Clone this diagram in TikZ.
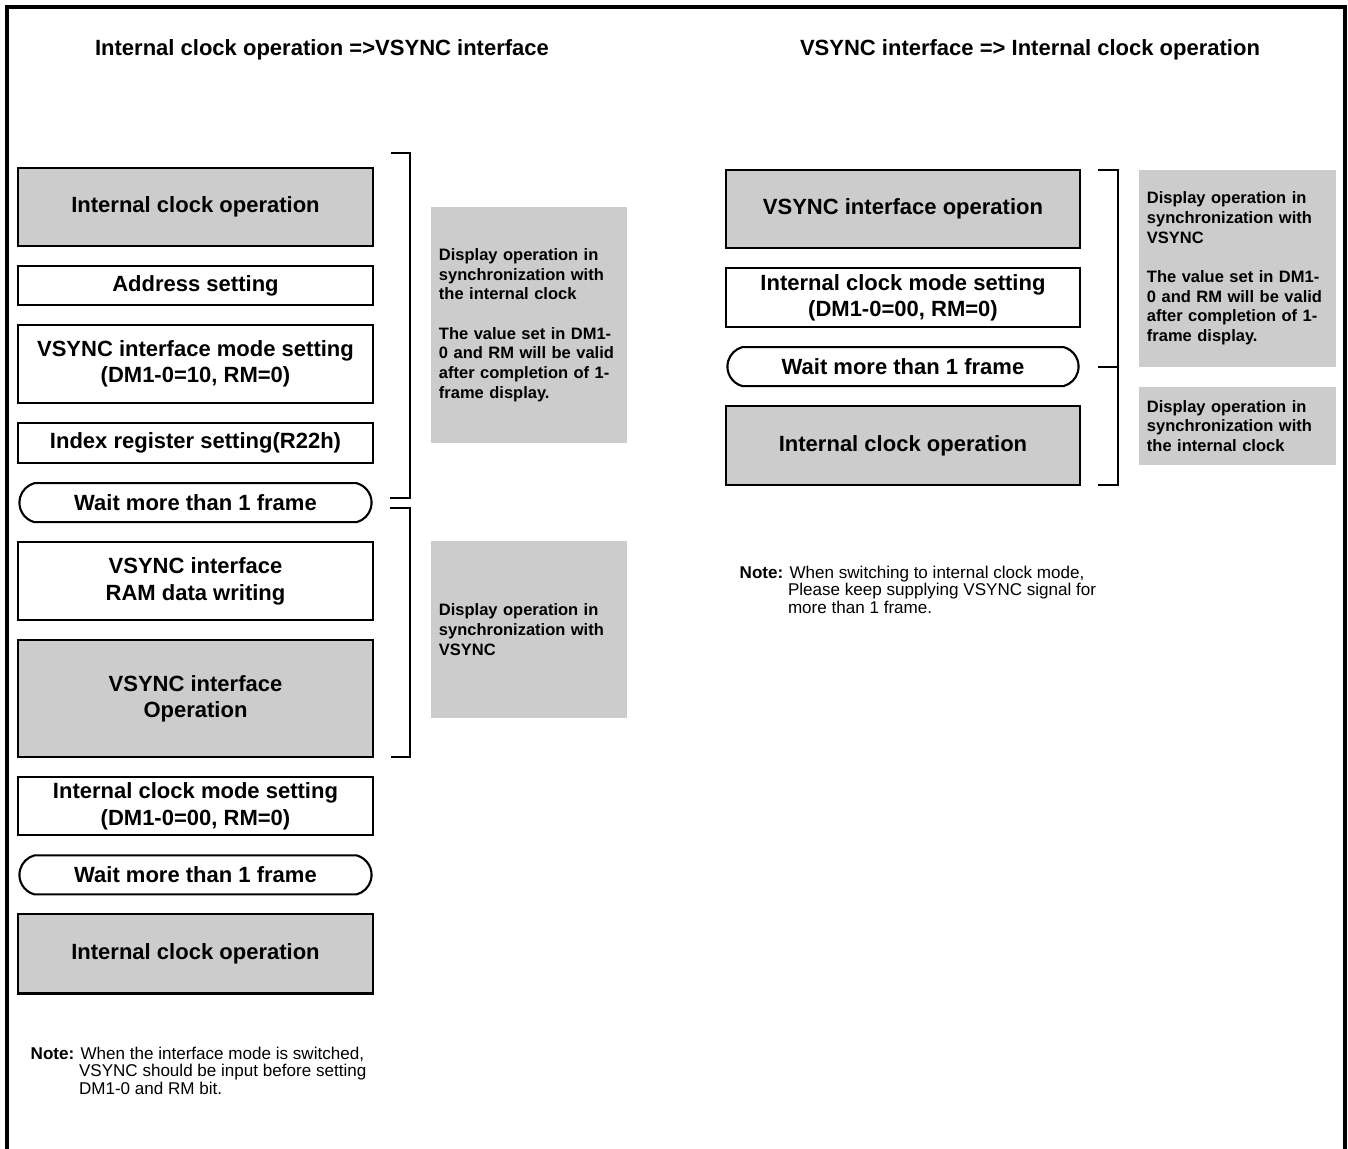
\documentclass[tikz,border=0pt]{standalone}
\usepackage{fontspec}
\setmainfont{Liberation Sans}
\usetikzlibrary{positioning,shapes.misc,calc}
\definecolor{panelgray}{RGB}{204,204,204}
\newcommand{\boxfont}{\fontsize{6.26pt}{7.5pt}\selectfont\bfseries}
\newcommand{\sidefont}{\fontsize{4.69pt}{5.6pt}\selectfont\bfseries}
\newcommand{\notefont}{\fontsize{4.85pt}{5.1pt}\selectfont}
\begin{document}
\begin{tikzpicture}[
  x=0.01cm, y=0.01cm,
  node distance=0.2cm,
  stepbox/.style={draw, line width=0.6pt, outer sep=0pt, minimum width=3.55cm, inner sep=1pt, align=center, font=\boxfont},
  opbox/.style={stepbox, fill=panelgray},
  waitbox/.style={stepbox, rounded rectangle, rounded rectangle arc length=150, minimum width=3.59cm, minimum height=0.39cm},
  sidebox/.style={fill=panelgray, text width=1.80cm, inner xsep=0.08cm, inner ysep=0pt, align=left, font=\sidefont},
  title/.style={font=\boxfont},
  notetext/.style={anchor=north west, inner sep=0pt, align=left, font=\notefont},
  bracket/.style={line width=0.6pt}
]
\useasboundingbox (0,0) rectangle (1348,1149);
\draw[line width=0.9pt] (7,0) |- (1345,1142) -- (1345,0);

\node[title] (titleL) at (322,1099) {Internal clock operation =>VSYNC interface};
\node[title] (titleR) at (1030,1099) {VSYNC interface => Internal clock operation};

\node[opbox, minimum height=0.78cm, anchor=north] (ic1) at (195.5,981) {Internal clock operation};
\node[stepbox, minimum height=0.39cm, below=of ic1] (addr) {Address setting};
\node[stepbox, minimum height=0.78cm, below=of addr] (vmode) {VSYNC interface mode setting\\(DM1-0=10, RM=0)};
\node[stepbox, minimum height=0.40cm, below=of vmode] (idx) {Index register setting(R22h)};
\node[waitbox, below=of idx] (wait1) {Wait more than 1 frame};
\node[stepbox, minimum height=0.78cm, below=of wait1] (vwrite) {VSYNC interface\\RAM data writing};
\node[opbox, minimum height=1.17cm, below=of vwrite] (vop) {VSYNC interface\\Operation};
\node[stepbox, minimum height=0.58cm, below=of vop] (icmode) {Internal clock mode setting\\(DM1-0=00, RM=0)};
\node[waitbox, below=of icmode] (wait2) {Wait more than 1 frame};
\node[opbox, minimum height=0.79cm, below=of wait2] (ic2) {Internal clock operation};

\coordinate (bk1) at ($(ic1.north east)+(18,15)$);
\draw[bracket] (bk1) -- ++(19,0) |- ($(wait1.east)+(18,5)$);
\draw[bracket] ($(wait1.east)+(18,-5)$) -| ($(vop.south east)+(37,0)$) -- ++(-19,0);

\node[sidebox, minimum height=2.36cm] (syncL1) at (529,824) {Display operation in\\synchronization with\\the internal clock\\[5.6pt]The value set in DM1-\\0 and RM will be valid\\after completion of 1-\\frame display.};
\node[sidebox, minimum height=1.77cm] (syncL2) at (529,519.5) {Display operation in\\synchronization with\\VSYNC};

\node[opbox, minimum height=0.78cm, minimum width=3.54cm, anchor=north] (vopR) at (903,979) {VSYNC interface operation};
\node[stepbox, minimum height=0.59cm, minimum width=3.54cm, below=of vopR] (icmodeR) {Internal clock mode setting\\(DM1-0=00, RM=0)};
\node[waitbox, minimum width=3.58cm, below=of icmodeR] (waitR) {Wait more than 1 frame};
\node[opbox, minimum height=0.79cm, minimum width=3.54cm, below=of waitR] (icR) {Internal clock operation};

\draw[bracket] ($(vopR.north east)+(18,0)$) -- ++(20,0) coordinate (bk3) |- ($(icR.south east)+(18,0)$);
\draw[bracket] (bk3 |- waitR.east) -- ++(-20,0);

\node[sidebox, text width=1.81cm, minimum height=1.97cm] (syncR1) at (1237.5,880.5) {Display operation in\\synchronization with\\VSYNC\\[5.6pt]The value set in DM1-\\0 and RM will be valid\\after completion of 1-\\frame display.};
\node[sidebox, text width=1.81cm, minimum height=0.78cm] (syncR2) at (1237.5,723) {Display operation in\\synchronization with\\the internal clock};

\node[notetext] (noteL) at (30,103) {\textbf{Note:} When the interface mode is switched,\\\hphantom{\textbf{Note:}\ }VSYNC should be input before setting\\\hphantom{\textbf{Note:}\ }DM1-0 and RM bit.};
\node[notetext] (noteR) at (739,584) {\textbf{Note:} When switching to internal clock mode,\\\hphantom{\textbf{Note:}\ }Please keep supplying VSYNC signal for\\\hphantom{\textbf{Note:}\ }more than 1 frame.};
\end{tikzpicture}
\end{document}
